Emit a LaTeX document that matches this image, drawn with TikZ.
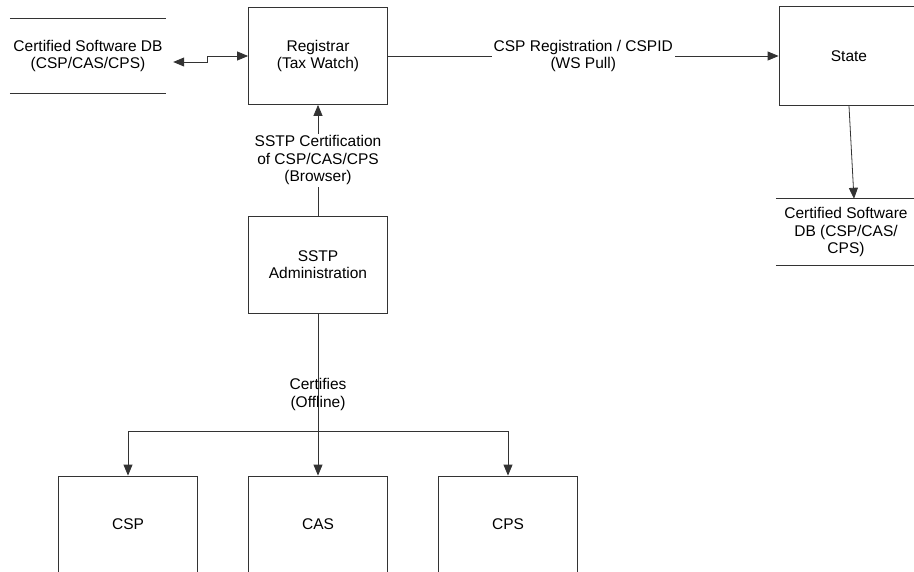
\documentclass[tikz,border=0pt]{standalone}
\usepackage{fontspec}
\setmainfont{Liberation Sans}
\usetikzlibrary{positioning, arrows.meta, calc}

\begin{document}
\begin{tikzpicture}[x=1pt, y=-1pt,
		myline/.style={draw=black!80, line width=0.8pt},
		box/.style={myline, minimum height=97pt, minimum width=139pt, align=center, inner sep=0pt},
		store/.style={minimum height=74pt, minimum width=156pt, align=center, inner sep=0pt},
		lbl/.style={align=center, inner sep=2pt},
		>={Triangle[length=11pt, width=9pt]},
		font=\fontsize{15.5}{17.5}\selectfont]
		
		\clip (0,0) rectangle (914,571);
		
		\node[store] at (88,56)  (dbA) {Certified Software DB\\(CSP/CAS/CPS)};
		\node[box] at (318,56)  (registrar) {Registrar\\(Tax Watch)};
		\node[box, minimum width=140pt, minimum height=99pt] at (849,56)  (state) {State};
		\node[store, minimum width=140pt, minimum height=66pt] at (846,232)  (dbB) {Certified Software\\DB (CSP/CAS/\\CPS)};
		\node[box] at (318,264.5) (sstp) {SSTP\\Administration};
		
		\node[box] at (128,524.5) (csp) {CSP};
		\node[box] at (318,524.5) (cas) {CAS};
		\node[box] at (508,524.5) (cps) {CPS};
		
		\draw[myline] (dbA.north west)--(dbA.north east);
		\draw[myline] (dbA.south west)--(dbA.south east);
		\draw[myline] (dbB.north west)--(dbB.north east);
		\draw[myline] (dbB.south west)--(dbB.south east);
		
		\draw[<->, myline] ([xshift=7pt, yshift=-6pt]dbA.east)-|(207,56)--(registrar.west);
		\draw[->, myline] (registrar.east)--node[lbl, fill=white]{CSP Registration / CSPID\\(WS Pull)}(state.west);
		\draw[->, myline] (sstp.north)--node[lbl, fill=white]{SSTP Certification\\of CSP/CAS/CPS\\(Browser)}(registrar.south);
		\draw[->, myline] (state.south)--([xshift=8pt]dbB.north);
		
		\coordinate (split) at (318,431);
		\draw[->, myline] (sstp.south)--node[lbl]{Certifies\\(Offline)}(cas.north);
		\draw[->, myline] (split)-|(csp.north);
		\draw[->, myline] (split)-|(cps.north);
	\end{tikzpicture}
\end{document}
